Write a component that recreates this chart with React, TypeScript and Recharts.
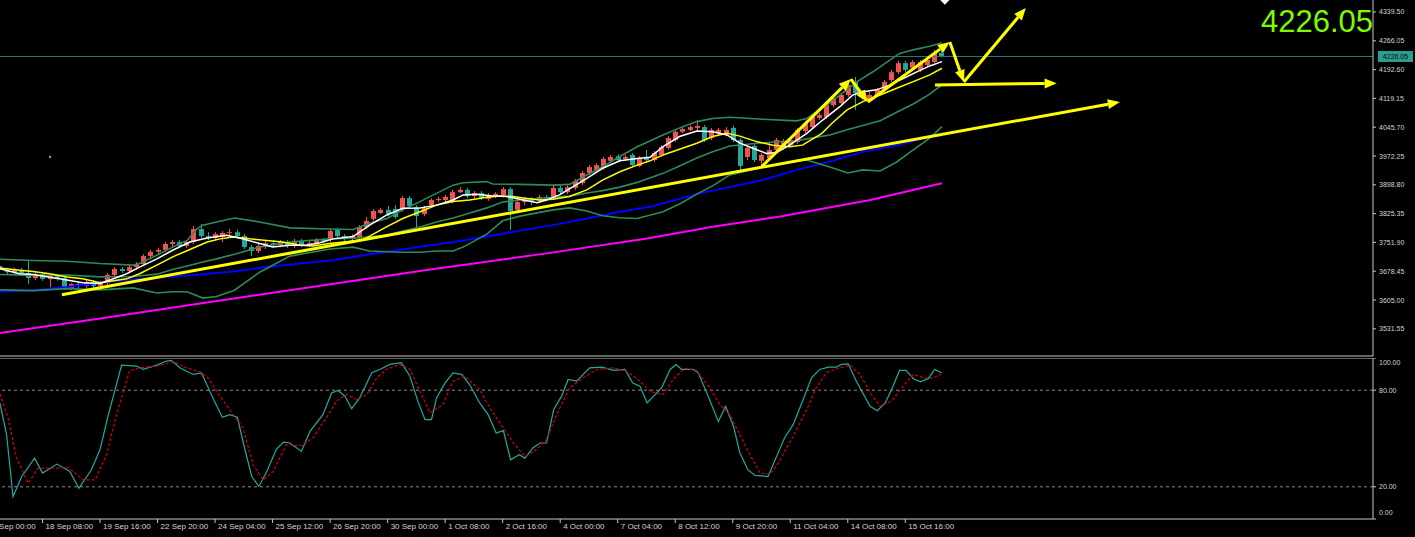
import {
  Bar,
  ComposedChart,
  Line,
  ReferenceDot,
  ReferenceLine,
  XAxis,
  YAxis,
} from "recharts";

// XAUUSD H4, 17 Sep – 16 Oct. x = bar index, 0 = 17 Sep 00:00 (one unit per 4h bar).
// Two panes: price (candles, BB 20, three MAs, drawn trend arrows) and stochastic.

const FIRST_BAR = 2;

const opens = [
  3692, 3682, 3676, 3682, 3674, 3661, 3671, 3659, 3666, 3661,
  3636, 3646, 3641, 3651, 3641, 3648, 3669, 3684, 3679, 3689,
  3697, 3717, 3728, 3733, 3748, 3753, 3743, 3753, 3786, 3768,
  3763, 3766, 3776, 3778, 3768, 3740, 3730, 3743, 3750, 3745,
  3753, 3743, 3756, 3745, 3750, 3758, 3758, 3784, 3768, 3761,
  3766, 3791, 3812, 3827, 3835, 3837, 3835, 3865, 3842, 3824,
  3847, 3860, 3860, 3858, 3880, 3886, 3870, 3878, 3863, 3870,
  3873, 3888, 3835, 3855, 3863, 3858, 3868, 3865, 3891, 3880,
  3891, 3903, 3929, 3937, 3942, 3960, 3972, 3965, 3975, 3947,
  3970, 3962, 3975, 3993, 4013, 4034, 4039, 4044, 4046, 4018,
  4031, 4028, 4044, 4013, 3970, 3998, 3960, 3967, 3988, 3993,
  4000, 4008, 4036, 4046, 4069, 4072, 4102, 4107, 4128, 4161,
  4135, 4115, 4128, 4141, 4166, 4186, 4209, 4197, 4192, 4204,
  4212, 4235,
];
const highs = [
  3699, 3687, 3687, 3687, 3707, 3676, 3676, 3671, 3671, 3664,
  3648, 3651, 3656, 3656, 3654, 3674, 3689, 3689, 3694, 3702,
  3722, 3733, 3738, 3753, 3758, 3758, 3758, 3794, 3799, 3778,
  3778, 3781, 3786, 3784, 3773, 3745, 3748, 3756, 3758, 3758,
  3758, 3761, 3761, 3758, 3763, 3763, 3786, 3789, 3773, 3773,
  3796, 3817, 3837, 3840, 3845, 3847, 3870, 3870, 3847, 3845,
  3865, 3868, 3873, 3886, 3893, 3891, 3883, 3883, 3878, 3880,
  3893, 3893, 3860, 3868, 3868, 3873, 3873, 3896, 3896, 3898,
  3914, 3934, 3949, 3954, 3970, 3975, 3977, 3975, 3980, 3972,
  3988, 3985, 4000, 4023, 4039, 4046, 4051, 4064, 4051, 4044,
  4044, 4046, 4049, 4018, 3998, 4003, 3980, 4008, 4018, 4016,
  4018, 4044, 4062, 4077, 4082, 4107, 4125, 4133, 4158, 4174,
  4141, 4135, 4146, 4166, 4192, 4215, 4215, 4217, 4217, 4222,
  4243, 4240,
];
const lows = [
  3676, 3669, 3671, 3666, 3646, 3656, 3654, 3638, 3654, 3631,
  3631, 3633, 3636, 3633, 3636, 3643, 3664, 3674, 3674, 3682,
  3692, 3712, 3722, 3728, 3740, 3738, 3738, 3748, 3763, 3758,
  3758, 3753, 3768, 3763, 3735, 3717, 3725, 3735, 3740, 3740,
  3738, 3738, 3740, 3740, 3745, 3750, 3753, 3763, 3756, 3756,
  3761, 3786, 3807, 3824, 3819, 3812, 3830, 3840, 3791, 3819,
  3842, 3855, 3855, 3852, 3878, 3865, 3865, 3860, 3858, 3865,
  3868, 3784, 3830, 3847, 3847, 3852, 3858, 3860, 3875, 3875,
  3886, 3898, 3924, 3931, 3937, 3954, 3957, 3960, 3944, 3944,
  3957, 3957, 3970, 3988, 4008, 4031, 4036, 4036, 4008, 4013,
  4026, 4023, 4008, 3937, 3962, 3957, 3944, 3962, 3982, 3988,
  3995, 4003, 4031, 4041, 4064, 4067, 4097, 4102, 4123, 4090,
  4115, 4110, 4123, 4135, 4161, 4181, 4186, 4192, 4186, 4199,
  4209, 4224,
];
const closes = [
  3682, 3676, 3682, 3674, 3661, 3671, 3659, 3666, 3661, 3636,
  3646, 3641, 3651, 3641, 3648, 3669, 3684, 3679, 3689, 3697,
  3717, 3728, 3733, 3748, 3753, 3743, 3753, 3786, 3768, 3763,
  3773, 3776, 3778, 3768, 3740, 3730, 3743, 3750, 3745, 3753,
  3743, 3756, 3745, 3750, 3758, 3756, 3781, 3768, 3761, 3768,
  3791, 3807, 3832, 3835, 3824, 3817, 3865, 3845, 3819, 3840,
  3860, 3863, 3868, 3880, 3886, 3870, 3878, 3865, 3870, 3876,
  3888, 3832, 3855, 3863, 3855, 3868, 3863, 3891, 3880, 3893,
  3909, 3929, 3944, 3949, 3965, 3970, 3962, 3970, 3949, 3967,
  3962, 3980, 3995, 4018, 4034, 4041, 4046, 4049, 4013, 4039,
  4039, 4039, 4013, 3947, 3993, 3962, 3975, 3988, 4013, 4011,
  4013, 4039, 4056, 4072, 4077, 4102, 4120, 4128, 4153, 4133,
  4120, 4128, 4141, 4161, 4186, 4209, 4192, 4212, 4212, 4217,
  4235, 4226.05,
];

// indicator lines as [bar, value] vertices
const maFast: [number, number][] = [
  [2.07, 3685], [4.8, 3672], [6.7, 3670], [11.4, 3656], [13.6, 3649], [16, 3647],
  [17.4, 3656], [19.7, 3672], [21.5, 3689], [23.9, 3710], [26.1, 3732], [28.5, 3753],
  [30.9, 3763], [33.6, 3770], [35.4, 3763], [38.2, 3749], [40, 3740], [42.4, 3745],
  [44.8, 3745], [46.6, 3751], [48.4, 3761], [51.2, 3767], [53.5, 3796], [55.9, 3822],
  [58.1, 3839], [60.5, 3840], [62.8, 3847], [65.1, 3860], [66.5, 3873], [68.4, 3875],
  [70.6, 3870], [72.6, 3869], [74.4, 3862], [76.8, 3853], [78.1, 3860], [79.9, 3873],
  [81.8, 3894], [83.7, 3915], [85.9, 3941], [88.3, 3960], [90.7, 3966], [92.5, 3969],
  [94.3, 3996], [96.6, 4022], [99, 4036], [101.2, 4034], [103.2, 4026], [105, 4005],
  [106.8, 3992], [108.7, 3979], [110.1, 3981], [111.9, 4000], [114.3, 4030], [116.5, 4064],
  [118.9, 4098], [120.7, 4128], [122.1, 4136], [124, 4141], [125.8, 4153], [127.7, 4170],
  [129.6, 4187], [131.4, 4202], [133.1, 4213],
];
const maSlow: [number, number][] = [
  [2.07, 3687], [4.8, 3681], [6.7, 3678], [9, 3672], [11.4, 3664], [13.6, 3659],
  [16, 3649], [17.4, 3653], [19.7, 3659], [21.5, 3672], [23.9, 3694], [26.1, 3715],
  [28.5, 3734], [30.9, 3753], [32.7, 3761], [34.5, 3766], [36.8, 3761], [39.2, 3757],
  [41.4, 3753], [43.8, 3745], [45.6, 3743], [47.9, 3749], [52.5, 3758], [55.9, 3792],
  [58.1, 3813], [60.5, 3830], [62.8, 3847], [65.1, 3856], [67.4, 3860], [69.8, 3867],
  [71.6, 3870], [73.4, 3869], [75.4, 3864], [77.2, 3860], [79, 3862], [81.3, 3869],
  [83.7, 3886], [85.9, 3911], [88.3, 3932], [90.7, 3949], [92.5, 3960], [94.3, 3975],
  [99, 4005], [101.2, 4022], [103.2, 4030], [105, 4023], [107.3, 4009], [109.6, 4000],
  [111.9, 3996], [113.7, 4000], [116.4, 4030], [117.8, 4056], [119.9, 4090], [122.1, 4111],
  [124.5, 4128], [126.8, 4145], [129.1, 4162], [131.4, 4179], [133.1, 4196],
];
const bbUpper: [number, number][] = [
  [2.07, 3709], [6.7, 3706], [11.4, 3704], [16, 3698], [20.6, 3694], [21.5, 3698],
  [23.9, 3719], [26.1, 3740], [28.1, 3757], [29.5, 3787], [30.3, 3796], [32.2, 3804],
  [34.7, 3814], [38.2, 3804], [42.4, 3789], [48, 3786], [51.2, 3785], [53.5, 3801],
  [55.9, 3813], [58.1, 3835], [60.5, 3856], [62.8, 3877], [65.1, 3898], [66.5, 3904],
  [69.8, 3907], [70.6, 3901], [74.4, 3900], [79, 3898], [81.3, 3900], [83.7, 3924],
  [85.9, 3945], [88.3, 3971], [90.7, 3996], [94.3, 4026], [96.6, 4044], [99, 4060],
  [101.2, 4068], [103.6, 4071], [108.2, 4066], [112.9, 4062], [114.3, 4068], [117.5, 4108],
  [121.3, 4162], [123.5, 4187], [127.2, 4234], [129.1, 4243], [131.4, 4252], [133.1, 4261],
];
const bbMiddle: [number, number][] = [
  [2.07, 3670], [6.7, 3668], [11.4, 3669], [16, 3664], [20.6, 3665], [23.9, 3671],
  [26.1, 3683], [28.1, 3692], [30.3, 3702], [32.2, 3710], [34.7, 3722], [38.2, 3740],
  [42.4, 3753], [48, 3761], [51.2, 3763], [53.5, 3766], [55.9, 3770], [58.1, 3781],
  [60.5, 3791], [62.8, 3804], [65.1, 3814], [66.5, 3822], [69.8, 3840], [72, 3855],
  [74.4, 3860], [79, 3867], [81.3, 3870], [83.7, 3878], [85.9, 3884], [88.3, 3893],
  [90.7, 3905], [94.3, 3928], [96.6, 3947], [99, 3967], [101.2, 3983], [103.6, 3998],
  [108.2, 4006], [112.9, 4011], [114.3, 4016], [117.5, 4026], [120, 4040], [122.1, 4050],
  [124.5, 4062], [126.8, 4084], [129.1, 4105], [131.4, 4130], [133.1, 4154],
];
const bbLower: [number, number][] = [
  [2.07, 3631], [6.7, 3629], [11.4, 3634], [16, 3631], [20.6, 3636], [23.9, 3623],
  [26.1, 3626], [28.1, 3626], [30.3, 3610], [32.2, 3614], [34.7, 3630], [38.2, 3676],
  [42.4, 3717], [48, 3735], [51.2, 3740], [53.5, 3730], [55.9, 3728], [58.1, 3727],
  [60.5, 3727], [62.8, 3730], [65.1, 3730], [66.5, 3740], [69.8, 3773], [72, 3807],
  [74.4, 3819], [79, 3835], [81.3, 3840], [83.7, 3832], [85.9, 3820], [88.3, 3815],
  [90.7, 3813], [94.3, 3830], [96.6, 3850], [99, 3875], [101.2, 3896], [103.6, 3924],
  [108.2, 3944], [112.9, 3960], [114.3, 3962], [117.5, 3944], [120, 3929], [122.1, 3937],
  [124.5, 3934], [126.8, 3957], [129.1, 3988], [131.4, 4018], [133.1, 4047],
];
const maBlue: [number, number][] = [
  [2.07, 3626], [6.7, 3630], [11.4, 3638], [16, 3649], [20.6, 3658], [25.3, 3664],
  [29.9, 3670], [34.5, 3678], [39.2, 3689], [43.8, 3698], [48, 3706], [57.7, 3733],
  [67, 3758], [74.4, 3782], [79, 3796], [83.7, 3813], [88.3, 3830], [92.5, 3843],
  [99.4, 3877], [108.2, 3911], [112.9, 3937], [117.5, 3958], [122.1, 3983], [126.8, 3999],
  [130.4, 4017], [133.1, 4025],
];
const maMagenta: [number, number][] = [
  [2.07, 3521], [16, 3558], [29.9, 3596], [43.8, 3634], [61.9, 3683], [78.1, 3724],
  [92.1, 3762], [101.2, 3792], [110.6, 3818], [123.1, 3860], [133.1, 3903],
];

// drawn objects: [fromBar, fromPrice, toBar, toPrice], arrowhead at the "to" end
const trendArrows: [number, number, number, number][] = [
  [10.69, 3618.6, 157.84, 4110.0],
  [108.05, 3945.5, 120.43, 4168.6],
  [120.43, 4168.6, 122.79, 4110.0],
  [122.79, 4110.0, 134.19, 4263.0],
  [134.19, 4263.0, 136.14, 4161.0],
  [136.14, 4161.0, 144.76, 4349.7],
  [132.13, 4153.4, 149.05, 4157.7],
];

const stochMain: [number, number][] = [
  [2.07, 72.1], [3, 52.4], [3.9, 13.9], [5.1, 26.4], [6.9, 37.8], [8, 28.5], [10, 34.1],
  [11.8, 29.5], [13.05, 19.1], [14.8, 30.6], [16, 43.1], [17.1, 63.8], [18.1, 80.5],
  [19, 95.6], [21.1, 95.0], [22, 92.9], [23.9, 95.6], [25.25, 98.1], [25.9, 98.5],
  [27.1, 93.9], [28.95, 89.8], [30.1, 90.8], [31.7, 75.2], [33, 63.2], [34.05, 64.8],
  [35.1, 63.2], [36.1, 44.1], [37.1, 26.4], [38.1, 20.2], [39.2, 29.5], [40.5, 43.1],
  [41.5, 47.8], [42.4, 47.2], [44, 42.0], [45.2, 54.4], [47, 64.8], [48.2, 78.3],
  [49.1, 79.8], [50.05, 76.3], [51, 68.5], [52.1, 75.2], [53.8, 90.8], [54.9, 92.9],
  [56.3, 96.0], [57.9, 97.1], [59.1, 88.7], [60.2, 73.2], [61.2, 61.7], [62.1, 61.7],
  [62.8, 75.2], [64, 84.5], [65.1, 90.8], [66.3, 89.8], [67.4, 83.5], [68.8, 72.1],
  [69.98, 64.8], [71.1, 53.4], [72.1, 54.9], [73.1, 36.8], [74.3, 39.9], [75.1, 37.8],
  [76.2, 44.1], [77.2, 47.2], [78.1, 47.2], [79.1, 68.0], [80.2, 76.3], [81.1, 86.7],
  [82.3, 85.6], [84.1, 93.9], [85.8, 94.3], [87.4, 92.3], [89, 92.9], [90.1, 84.5],
  [91.1, 82.5], [92.1, 72.1], [94.1, 81.4], [95.3, 92.9], [96.1, 96.0], [96.9, 92.9],
  [98.5, 92.9], [99.2, 90.8], [100.4, 78.3], [102, 60.6], [103, 70.0], [104.1, 57.6],
  [105, 41.0], [106.1, 30.6], [107.1, 27.1], [108.9, 26.4], [110.1, 38.9], [111.2, 50.3],
  [112.4, 58.6], [113.8, 74.2], [114.96, 87.7], [116.1, 92.9], [117.3, 94.3], [118.4, 94.3],
  [119.1, 96.0], [120.05, 96.4], [121.2, 85.6], [123.1, 70.0], [124.1, 67.3], [125.2, 72.1],
  [126.1, 80.5], [127.2, 92.3], [128.1, 92.3], [129.1, 87.3], [130.1, 85.2], [131.2, 87.3],
  [132.1, 92.9], [133.05, 90.8],
];
const stochSignal: [number, number][] = [
  [2.07, 77.7], [3.2, 62.8], [4.4, 37.8], [6, 22.3], [7.4, 31.6], [9.7, 31.6], [11.6, 32.0],
  [13.65, 24.3], [15.3, 24.3], [16.9, 39.9], [18.3, 64.8], [20.1, 92.0], [21.5, 93.9],
  [23.9, 95.0], [26.2, 97.7], [28, 93.9], [29.9, 91.4], [31, 87.7], [32.7, 76.3],
  [34.5, 64.8], [35.9, 56.5], [37.3, 33.7], [38.7, 24.3], [40.1, 29.5], [41.9, 46.1],
  [44, 45.7], [45.6, 50.3], [47.3, 61.7], [48.9, 73.2], [50.3, 77.3], [51.7, 74.2],
  [53.1, 77.3], [54.5, 87.7], [55.8, 92.9], [57.7, 96.0], [59.1, 92.9], [60.5, 79.4],
  [61.9, 65.9], [63.7, 71.1], [65.1, 85.6], [66.7, 88.7], [68.8, 80.5], [70.2, 69.1],
  [72.1, 56.5], [73.5, 47.2], [75.1, 38.9], [76.7, 43.1], [78.1, 49.3], [79.5, 64.8],
  [81.3, 81.4], [83.2, 87.7], [85.1, 92.9], [87.4, 93.9], [89.2, 91.8], [90.8, 86.7],
  [92.5, 79.4], [94.3, 77.3], [95.7, 86.7], [97.3, 93.5], [98.96, 92.3], [100.8, 81.4],
  [102.2, 71.1], [103.6, 64.8], [105, 52.4], [106.4, 39.9], [107.8, 28.5], [109.2, 27.9],
  [110.5, 35.8], [112.4, 51.4], [114.3, 68.0], [115.6, 81.4], [117, 90.8], [118.9, 93.9],
  [120.3, 95.6], [121.7, 89.8], [123.3, 77.3], [124.5, 70.0], [126.1, 73.2], [127.5, 81.4],
  [129.1, 89.8], [130.5, 87.7], [131.9, 87.7], [133.05, 90.1],
];

const priceTicks = [
  3531.55, 3605.0, 3678.45, 3751.9, 3825.35, 3898.8, 3972.25, 4045.7, 4119.15, 4192.6,
  4266.05, 4339.5,
];
const stochTicks = [0, 20, 80, 100];
const stochLevels = [20, 80];
const timeTicks = [0, 8, 16, 24, 32, 40, 48, 56, 64, 72, 80, 88, 96, 104, 112, 120, 128];
const timeLabels = [
  "17 Sep 00:00", "18 Sep 08:00", "19 Sep 16:00", "22 Sep 20:00", "24 Sep 04:00",
  "25 Sep 12:00", "26 Sep 20:00", "30 Sep 00:00", "1 Oct 08:00", "2 Oct 16:00",
  "4 Oct 00:00", "7 Oct 04:00", "8 Oct 12:00", "9 Oct 20:00", "11 Oct 04:00",
  "14 Oct 08:00", "15 Oct 16:00",
];
const LAST_PRICE = 4226.05;

const W = 1415;
const X_DOMAIN: [number, number] = [0, 193.05];
const PRICE_DOMAIN: [number, number] = [3462.3, 4370.1];
const MARGIN = { top: 0, right: 0, left: -15, bottom: 0 };
const AXIS_W = 42;

const FONT = '"Liberation Sans", Arial, sans-serif';
const AXIS_TEXT = "#d4d4d4";
const AXIS_LINE = "#c8c8c8";
const BULL = "#ef5350";
const BEAR = "#26a69a";
const YELLOW = "#ffff00";
const BAND = "#2e8b57";

const candleRows = opens.map((o, k) => ({
  i: FIRST_BAR + k,
  o,
  h: highs[k],
  l: lows[k],
  c: closes[k],
}));
const rows = (pts: [number, number][]) => pts.map(([i, v]) => ({ i, v }));

function Candle(props: any) {
  const { x, y, width, height, payload } = props;
  if (payload == null || !Number.isFinite(y)) return null;
  const top = Math.min(y, y + height);
  const span = Math.abs(height);
  const k = span / (payload.h - payload.l);
  const cx = Math.round(x + width / 2) + 0.5;
  const yo = top + (payload.h - payload.o) * k;
  const yc = top + (payload.h - payload.c) * k;
  const color = payload.c >= payload.o ? BULL : BEAR;
  return (
    <g>
      <line x1={cx} x2={cx} y1={top} y2={top + span} stroke={color} strokeWidth={1} />
      <rect
        x={cx - 2.5}
        y={Math.min(yo, yc)}
        width={5}
        height={Math.max(1, Math.abs(yc - yo))}
        fill={color}
      />
    </g>
  );
}

function ArrowLine(props: any) {
  const { x1, y1, x2, y2 } = props;
  const a = Math.atan2(y2 - y1, x2 - x1);
  const bx = x2 - 12 * Math.cos(a);
  const by = y2 - 12 * Math.sin(a);
  const s = Math.sin(a) * 5;
  const c = Math.cos(a) * 5;
  return (
    <g>
      <line x1={x1} y1={y1} x2={bx} y2={by} stroke={YELLOW} strokeWidth={3} />
      <polygon
        points={`${x2},${y2} ${bx + s},${by - c} ${bx - s},${by + c}`}
        fill={YELLOW}
      />
    </g>
  );
}

function PriceTag(props: any) {
  const vb = props.viewBox;
  if (!vb) return null;
  const x = vb.x + vb.width;
  return (
    <g>
      <rect x={x + 5} y={vb.y - 5.5} width={35} height={11} fill="#2a9d8f" />
      <text
        x={x + 22.5}
        y={vb.y}
        dy="0.355em"
        textAnchor="middle"
        fontSize={7}
        fontFamily={FONT}
        fill="#0a0a0a"
      >
        {LAST_PRICE.toFixed(2)}
      </text>
    </g>
  );
}

function Diamond(props: any) {
  const { cx, cy } = props;
  return (
    <polygon
      points={`${cx},${cy - 5} ${cx + 5},${cy} ${cx},${cy + 5} ${cx - 5},${cy}`}
      fill="#ffffff"
    />
  );
}

function StochTick(props: any) {
  const { x, y, payload } = props;
  const v = payload.value;
  const dy = v === 100 ? 5 : v === 0 ? -6 : 0;
  return (
    <text
      x={x}
      y={y + dy}
      dy="0.355em"
      textAnchor="start"
      fontSize={7}
      fontFamily={FONT}
      fill={AXIS_TEXT}
    >
      {v.toFixed(2)}
    </text>
  );
}

function TimeTick(props: any) {
  const { x, y, payload } = props;
  const label = timeLabels[timeTicks.indexOf(payload.value)];
  return (
    <text
      x={x + 3}
      y={y - 2}
      dy="0.71em"
      textAnchor="start"
      fontSize={8}
      fontFamily={FONT}
      fill={AXIS_TEXT}
    >
      {label}
    </text>
  );
}

function PricePane() {
  return (
    <ComposedChart width={W} height={357} data={candleRows} margin={MARGIN}>
      <XAxis
        type="number"
        dataKey="i"
        domain={X_DOMAIN}
        allowDataOverflow
        ticks={timeTicks}
        height={1}
        tick={false}
        tickLine={false}
        axisLine={{ stroke: AXIS_LINE }}
      />
      <YAxis
        orientation="right"
        width={AXIS_W}
        domain={PRICE_DOMAIN}
        allowDataOverflow
        ticks={priceTicks}
        interval={0}
        tickSize={3}
        tickMargin={3}
        tickFormatter={(v: number) => v.toFixed(2)}
        tick={{ fill: AXIS_TEXT, fontSize: 7, fontFamily: FONT }}
        tickLine={{ stroke: AXIS_LINE }}
        axisLine={{ stroke: AXIS_LINE }}
      />
      <ReferenceLine y={LAST_PRICE} stroke="#1f7f72" strokeWidth={1} label={PriceTag} />
      <Line data={rows(maMagenta)} dataKey="v" stroke="#ff00ff" strokeWidth={2} dot={false} activeDot={false} isAnimationActive={false} />
      <Line data={rows(maBlue)} dataKey="v" stroke="#0000ff" strokeWidth={2} dot={false} activeDot={false} isAnimationActive={false} />
      <Line data={rows(bbLower)} dataKey="v" stroke={BAND} strokeWidth={1.6} dot={false} activeDot={false} isAnimationActive={false} />
      <Line data={rows(bbMiddle)} dataKey="v" stroke={BAND} strokeWidth={1.6} dot={false} activeDot={false} isAnimationActive={false} />
      <Line data={rows(bbUpper)} dataKey="v" stroke={BAND} strokeWidth={1.6} dot={false} activeDot={false} isAnimationActive={false} />
      <Bar dataKey={(d: any) => [d.l, d.h]} barSize={5} shape={Candle} isAnimationActive={false} />
      <Line data={rows(maSlow)} dataKey="v" stroke={YELLOW} strokeWidth={1.5} dot={false} activeDot={false} isAnimationActive={false} />
      <Line data={rows(maFast)} dataKey="v" stroke="#ffffff" strokeWidth={1.5} dot={false} activeDot={false} isAnimationActive={false} />
      {trendArrows.map(([x1, y1, x2, y2], n) => (
        <ReferenceLine
          key={n}
          segment={[
            { x: x1, y: y1 },
            { x: x2, y: y2 },
          ]}
          shape={ArrowLine}
        />
      ))}
      <ReferenceDot x={9.04} y={3969.75} r={1.2} fill="#9a9a9a" stroke="none" />
      <ReferenceDot x={133.5} y={4371} ifOverflow="visible" shape={Diamond} />
    </ComposedChart>
  );
}

function StochPane() {
  return (
    <ComposedChart width={W} height={179} margin={MARGIN}>
      <XAxis
        type="number"
        dataKey="i"
        domain={X_DOMAIN}
        allowDataOverflow
        ticks={timeTicks}
        interval={0}
        height={18}
        tickSize={4}
        tickMargin={2}
        tick={TimeTick}
        tickLine={{ stroke: AXIS_LINE }}
        axisLine={{ stroke: AXIS_LINE }}
      />
      <YAxis
        orientation="right"
        width={AXIS_W}
        domain={[0, 100]}
        allowDataOverflow
        ticks={stochTicks}
        interval={0}
        tickSize={3}
        tickMargin={3}
        tick={StochTick}
        tickLine={{ stroke: AXIS_LINE }}
        axisLine={{ stroke: AXIS_LINE }}
      />
      <ReferenceLine y={100} stroke={AXIS_LINE} strokeWidth={1} />
      {stochLevels.map((lv) => (
        <ReferenceLine key={lv} y={lv} stroke="#8c8c8c" strokeDasharray="3 3" />
      ))}
      <Line data={rows(stochMain)} dataKey="v" stroke="#22aaa0" strokeWidth={1.2} dot={false} activeDot={false} isAnimationActive={false} />
      <Line data={rows(stochSignal)} dataKey="v" stroke="#d40000" strokeWidth={1.2} strokeDasharray="3 2" dot={false} activeDot={false} isAnimationActive={false} />
    </ComposedChart>
  );
}

export default function App() {
  return (
    <div
      style={{
        position: "relative",
        width: W,
        height: 537,
        background: "#000",
        overflow: "hidden",
        fontFamily: FONT,
      }}
    >
      <style>{"body{margin:0;background:#000}"}</style>
      <div style={{ position: "absolute", left: 0, top: 0 }}>
        <PricePane />
      </div>
      <div style={{ position: "absolute", left: 0, top: 358 }}>
        <StochPane />
      </div>
      <div
        style={{
          position: "absolute",
          right: W - 1373,
          top: 5,
          fontSize: 31,
          lineHeight: "34px",
          color: "#7CFC00",
        }}
      >
        {LAST_PRICE.toFixed(2)}
      </div>
    </div>
  );
}
